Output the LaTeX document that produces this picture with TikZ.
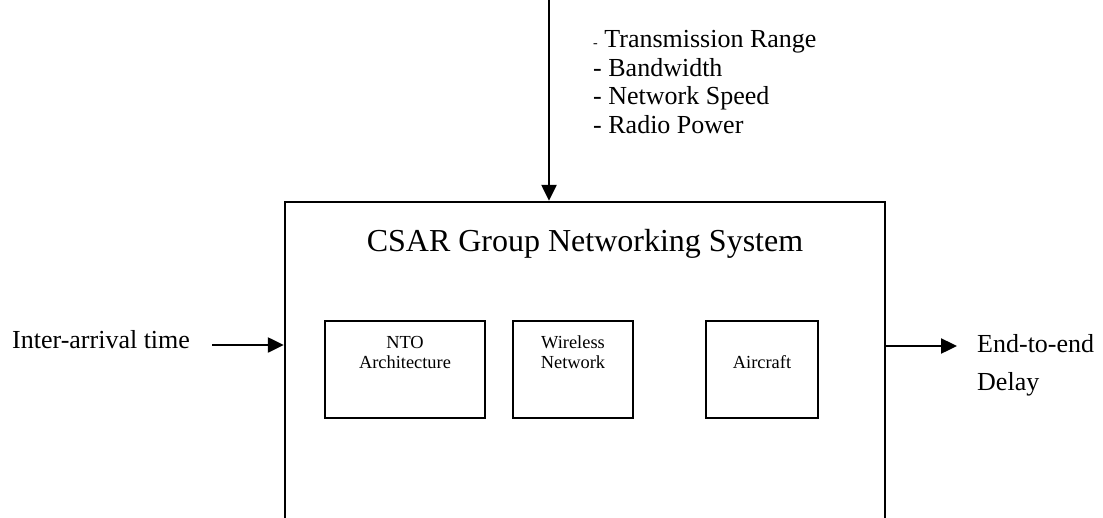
\documentclass[tikz,border=0pt]{standalone}
\usepackage{fontspec}
\setmainfont{Liberation Serif}
\usetikzlibrary{arrows.meta}
\tikzset{
  frame/.style={draw=black, line width=2.4pt, rectangle, inner sep=0pt},
  flow/.style={line width=2.4pt, -{Triangle[length=16pt,width=15pt]}},
  big/.style={font=\fontsize{32}{38}\selectfont, inner sep=0pt},
  lbl/.style={font=\fontsize{26}{29}\selectfont, inner sep=0pt, anchor=base west},
  small/.style={font=\fontsize{18.4}{20}\selectfont, inner sep=0pt, anchor=base, align=center},
}
\begin{document}
\begin{tikzpicture}[x=1pt,y=-1pt]
\clip (0,0) rectangle (1103,517);
\fill[white] (0,0) rectangle (1103,517);

% outer system block (continues below the lower edge)
\node[frame, minimum width=600pt, minimum height=400pt] (sys) at (585,402) {};
\node[big, anchor=base] (title) at ([yshift=-51pt]sys.north) {CSAR Group Networking System};

% inner component blocks
\node[frame, minimum width=160pt, minimum height=97pt] (nto) at (405,369.5) {};
\node[frame, minimum width=120pt, minimum height=97pt] (wln) at (573,369.5) {};
\node[frame, minimum width=112pt, minimum height=97pt] (air) at (762,369.5) {};
\node[small] (ntot) at ([yshift=-49pt]nto.north) {NTO\\Architecture};
\node[small] (wlnt) at ([yshift=-49pt]wln.north) {Wireless\\Network};
\node[small] (airt) at ([yshift=-49pt]air.north) {Aircraft};

% parameters entering from above
\coordinate (top) at (549,0);
\draw[flow] (top) -- (top |- sys.north);
\node[lbl] (p1) at (593,47) {{\fontsize{14}{14}\selectfont -} Transmission Range};
\node[lbl] (p2) at (593,76) {- Bandwidth};
\node[lbl] (p3) at (593,104.5) {- Network Speed};
\node[lbl] (p4) at (593,133) {- Radio Power};

% input and output
\node[lbl] (in) at (12,348) {Inter-arrival time};
\coordinate (ins) at (212,345);
\draw[flow] (ins) -- (ins -| sys.west);
\coordinate (outs) at (957,346);
\draw[flow] (outs -| sys.east) -- (outs);
\node[lbl] (out1) at (977,352) {End-to-end};
\node[lbl] (out2) at (977,390) {Delay};
\end{tikzpicture}
\end{document}
